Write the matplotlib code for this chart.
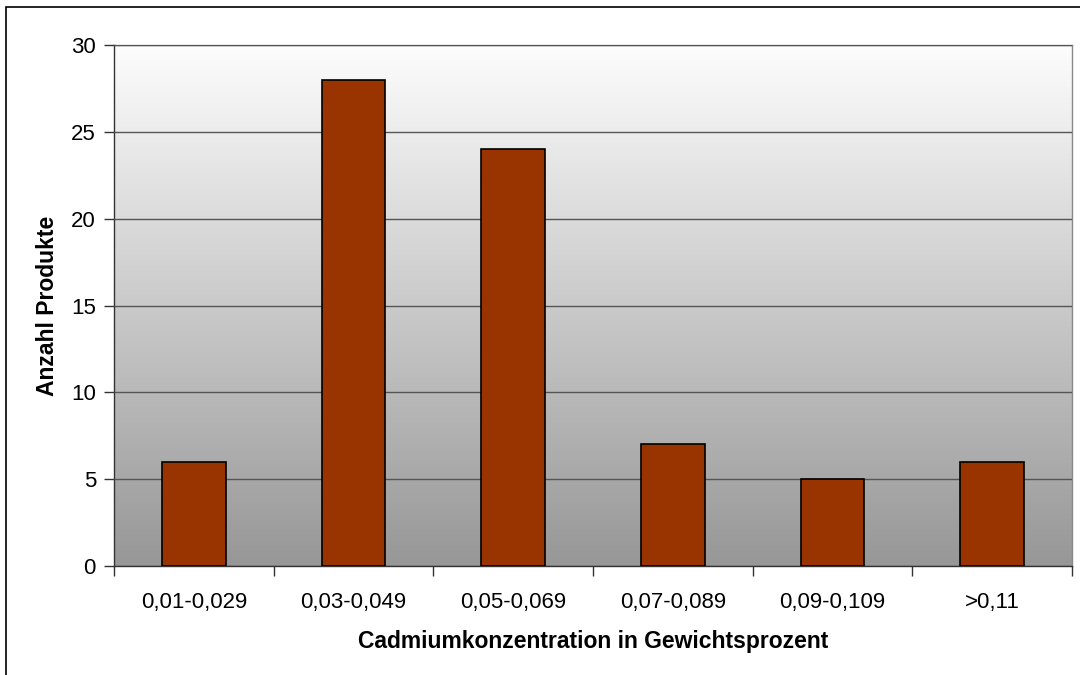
import numpy as np
import matplotlib.pyplot as plt
from matplotlib.colors import LinearSegmentedColormap
from matplotlib.patches import Rectangle

categories = ["0,01-0,029", "0,03-0,049", "0,05-0,069", "0,07-0,089", "0,09-0,109", ">0,11"]
counts = [6, 28, 24, 7, 5, 6]
y_ticks = [0, 5, 10, 15, 20, 25, 30]

plt.rcParams['font.family'] = ['Liberation Sans', 'DejaVu Sans']

fig = plt.figure(figsize=(10.8, 6.75), dpi=100)
ax = fig.add_axes([114 / 1080, 1 - 566 / 675, 958 / 1080, 521 / 675])

# outer chart frame
fig.patches.append(Rectangle((6 / 1080, -0.01), 1.1, 1 - 7 / 675 + 0.01,
                             transform=fig.transFigure, fill=False,
                             edgecolor="black", linewidth=1.2))

# vertical grey gradient behind the bars
grad = np.linspace(0, 1, 256).reshape(-1, 1)
bg = LinearSegmentedColormap.from_list("bg", ["#979797", "#fdfdfd"])
ax.imshow(grad, cmap=bg, origin="lower", aspect="auto",
          extent=(-0.5, len(categories) - 0.5, 0, 30), zorder=0)

x = np.arange(len(categories))
ax.bar(x, counts, width=0.4, color="#993300", edgecolor="black", linewidth=1.2, zorder=3)

ax.set_xlim(-0.5, len(categories) - 0.5)
ax.set_ylim(0, 30)
ax.set_yticks(y_ticks)
ax.yaxis.grid(True, color="#555555", linewidth=1.0, zorder=1)
ax.set_axisbelow(False)

# category ticks sit between the bars
ax.set_xticks(np.arange(len(categories) + 1) - 0.5)
ax.set_xticklabels([])
ax.set_xticks(x, minor=True)
ax.set_xticklabels(categories, minor=True)
ax.tick_params(axis="x", which="major", length=7, width=1, color="#333333")
ax.tick_params(axis="x", which="minor", length=0, pad=19, labelsize=16)
ax.tick_params(axis="y", length=7, width=1, color="#333333", labelsize=16, pad=6)

for side in ["left", "bottom"]:
    ax.spines[side].set_color("#333333")
    ax.spines[side].set_linewidth(1.0)
for side in ["top", "right"]:
    ax.spines[side].set_color("#888888")
    ax.spines[side].set_linewidth(1.0)

ax.set_xlabel("Cadmiumkonzentration in Gewichtsprozent", fontsize=16.5, fontweight="bold", labelpad=12)
ax.set_ylabel("Anzahl Produkte", fontsize=16.5, fontweight="bold", labelpad=9)

fig.savefig("out.png", dpi=100)
